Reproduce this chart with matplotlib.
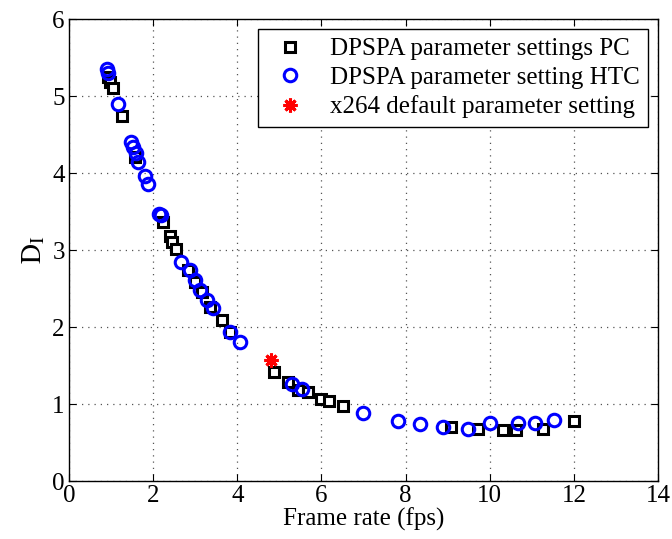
import matplotlib.pyplot as plt

# frame rate vs distortion
x_pc = [0.93, 0.97, 1.04, 1.26, 1.57, 2.23, 2.40, 2.45, 2.54, 2.83, 3.00, 3.16,
        3.35, 3.63, 3.83, 4.87, 5.21, 5.44, 5.68, 5.99, 6.18, 6.51, 9.08, 9.72,
        10.31, 10.62, 11.26, 12.00]
y_pc = [5.25, 5.18, 5.10, 4.74, 4.21, 3.36, 3.18, 3.10, 3.01, 2.74, 2.59, 2.46,
        2.26, 2.09, 1.94, 1.42, 1.29, 1.18, 1.16, 1.06, 1.04, 0.98, 0.70, 0.67,
        0.66, 0.66, 0.67, 0.78]

x_htc = [0.90, 0.93, 1.16, 1.47, 1.52, 1.59, 1.65, 1.81, 1.88, 2.15, 2.18, 2.66,
         2.88, 3.00, 3.11, 3.27, 3.43, 3.83, 4.06, 5.30, 5.54, 6.99, 7.82, 8.34,
         8.90, 9.48, 10.00, 10.66, 11.07, 11.53]
y_htc = [5.35, 5.30, 4.90, 4.40, 4.34, 4.26, 4.15, 3.96, 3.86, 3.47, 3.45, 2.84,
         2.74, 2.61, 2.48, 2.35, 2.25, 1.94, 1.81, 1.26, 1.19, 0.88, 0.78, 0.74,
         0.70, 0.68, 0.75, 0.75, 0.75, 0.79]

x_def = [4.80]
y_def = [1.57]

plt.rcParams['font.family'] = ['Liberation Serif', 'DejaVu Serif']
plt.rcParams['mathtext.fontset'] = 'stix'

fig = plt.figure(figsize=(6.72, 5.39), dpi=100)
ax = fig.add_axes([0.1027, 0.1076, 0.8765, 0.857])

ax.plot(x_pc, y_pc, ls='none', marker='s', ms=7.5, mfc='white', mec='black',
        mew=2.2, label='DPSPA parameter settings PC')
ax.plot(x_htc, y_htc, ls='none', marker='o', ms=9, mfc='none', mec='#0000ff',
        mew=2.2, label='DPSPA parameter setting HTC')
ax.plot(x_def, y_def, ls='none', marker=(8, 2, 0), ms=10, mec='red', mfc='red',
        mew=2.2, label='x264 default parameter setting')

ax.set_xlim(0, 14)
ax.set_ylim(0, 6)
ax.set_xticks(range(0, 15, 2))
ax.set_yticks(range(0, 7))
ax.grid(True, ls=(0, (1, 4)), color='#555555', lw=0.9)
ax.tick_params(direction='in', top=True, right=True, labelsize=18, length=5,
               pad=3)
for s in ax.spines.values():
    s.set_linewidth(1.0)

ax.set_xlabel('Frame rate (fps)', fontsize=18, labelpad=0)
ax.set_ylabel(r'$\mathrm{D_I}$', fontsize=20, labelpad=4)

leg = ax.legend(loc='upper right', fontsize=18, frameon=True, fancybox=False,
                framealpha=1, edgecolor='black', borderpad=0.35,
                handletextpad=0.7, labelspacing=0.25, handlelength=1.8,
                borderaxespad=0.4)
leg.get_frame().set_linewidth(1.0)

plt.savefig('out.png', dpi=100)
